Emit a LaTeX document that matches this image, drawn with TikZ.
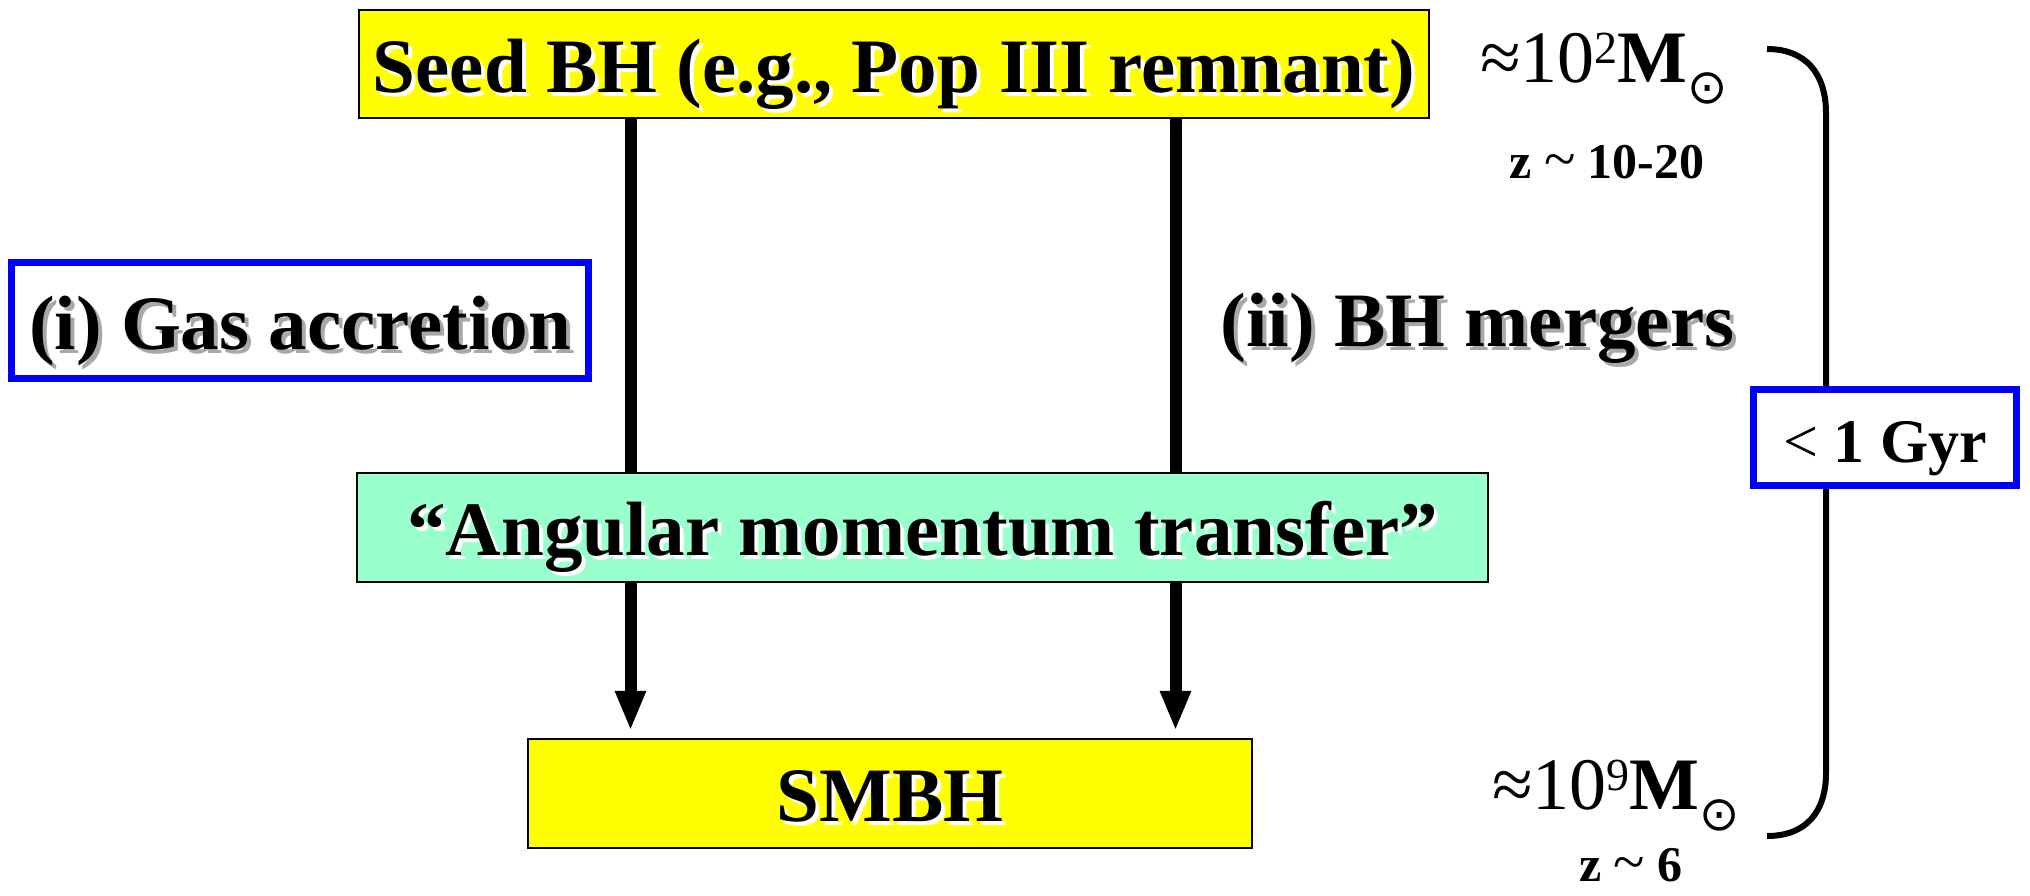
\documentclass[tikz,border=0pt]{standalone}
\usepackage{fontspec}
\setmainfont{Liberation Serif}
\newfontfamily\dotsunfont{DejaVu Sans}
\usetikzlibrary{arrows.meta}
\definecolor{seedyellow}{HTML}{FFFF00}
\definecolor{mint}{HTML}{99FFCC}
\definecolor{frameblue}{HTML}{0000FF}
\definecolor{shadegray}{HTML}{A8A8A8}
% text with a soft offset copy behind it
\newcommand\castshadow[2]{\makebox[0pt][l]{\hspace{4pt}\raisebox{-4pt}[0pt][0pt]{\textcolor{#1}{#2}}}#2}
% solar-mass symbol set below the line
\newcommand\msun{\raisebox{-21pt}{\fontsize{48}{48}\selectfont\dotsunfont ⊙}}
% exponent raised to the top of the digits
\newcommand\powerof[1]{\raisebox{19pt}{\fontsize{46}{46}\selectfont #1}}

\begin{document}
\begin{tikzpicture}[x=1pt,y=-1pt,
  bigfont/.style={font=\fontsize{77}{77}\selectfont\bfseries},
  stagebox/.style={draw=black, line width=2.5pt, inner sep=0pt, text height=56pt, text depth=0pt, bigfont},
  bluebox/.style={draw=frameblue, line width=7pt, fill=white, inner sep=0pt, text depth=0pt},
  flow/.style={line width=12pt, draw=black},
  flowtip/.style={flow, -{Triangle[width=32pt,length=38pt,line width=0pt]}, shorten >=9pt},
  bracket/.style={line width=6pt, line cap=butt},
  massfont/.style={font=\fontsize{74}{74}\selectfont, inner sep=0pt},
  zfont/.style={font=\fontsize{50}{50}\selectfont\bfseries, inner sep=0pt, text height=36pt, text depth=0pt}]

\useasboundingbox (0,0) rectangle (2030,895);

% stages of growth
\node[stagebox, fill=seedyellow, minimum width=1070pt, minimum height=108pt] (seed) at (894,64)
  {\castshadow{white}{Seed BH (e.g., Pop III remnant)}};
\node[stagebox, fill=mint, minimum width=1131pt, minimum height=109pt] (amt) at (922.5,527.5)
  {\castshadow{white}{“Angular momentum transfer”}};
\node[stagebox, fill=seedyellow, minimum width=724pt, minimum height=109pt] (smbh) at (890,793.5)
  {\castshadow{white}{SMBH}};

% the two channels
\node[bluebox, bigfont, text height=57pt, minimum width=577pt, minimum height=116pt] (gas) at (300,320.5)
  {\castshadow{shadegray}{(i) Gas accretion}};
\node[bigfont, inner sep=0pt, anchor=base] (mergers) at (1477.5,346)
  {\castshadow{shadegray}{(ii) BH mergers}};

% vertical flow lines
\coordinate (lx) at (630.5,0);
\coordinate (rx) at (1175.5,0);
\draw[flow] (lx |- seed.south) -- (lx |- amt.north);
\draw[flow] (rx |- seed.south) -- (rx |- amt.north);
\draw[flowtip] (lx |- amt.south) -- (lx |- smbh.north);
\draw[flowtip] (rx |- amt.south) -- (rx |- smbh.north);

% masses and redshifts
\node[massfont, anchor=base west] (mtop) at (1480,82)
  {≈10\powerof{2}\textbf{M}\msun};
\node[zfont, anchor=base] (ztop) at (1607,178) {z {\mdseries\fontsize{58}{58}\selectfont\textasciitilde} 10-20};
\node[massfont, anchor=base west] (mbot) at (1492,809)
  {≈10\powerof{9}\textbf{M}\msun};
\node[zfont, anchor=base] (zbot) at (1631,881) {z {\mdseries\fontsize{58}{58}\selectfont\textasciitilde} 6};

% time span bracket
\node[bluebox, font=\fontsize{62}{62}\selectfont\bfseries, text height=50pt, minimum width=263pt, minimum height=96pt] (gyr) at (1885,437.5)
  {{\mdseries<} 1 Gyr};
\coordinate (btop) at (1767,49);
\coordinate (bbot) at (1767,836);
\coordinate (bx) at (1826,0);
\draw[bracket] (btop) .. controls (1806,49) and (1826,74) .. (1826,113) -- (bx |- gyr.north);
\draw[bracket] (bx |- gyr.south) -- (1826,773) .. controls (1826,812) and (1806,836) .. (bbot);
\end{tikzpicture}
\end{document}
